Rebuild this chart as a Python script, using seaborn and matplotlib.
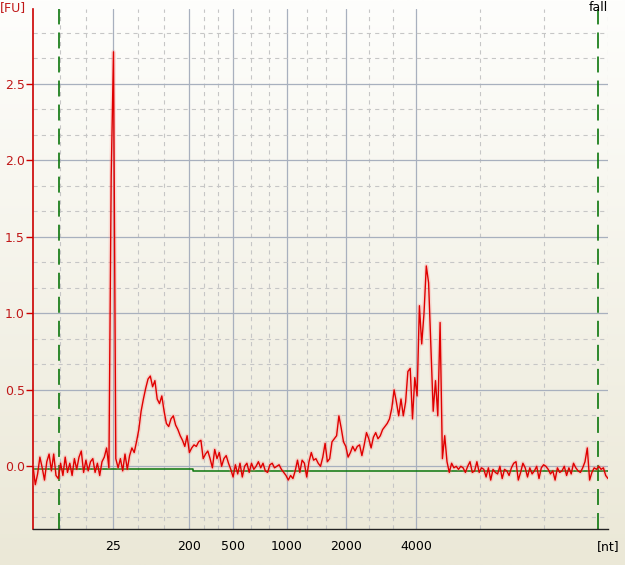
import matplotlib
matplotlib.use('Agg')
import matplotlib.pyplot as plt
import seaborn as sns
import numpy as np
from matplotlib.colors import LinearSegmentedColormap
from matplotlib.transforms import blended_transform_factory

sns.set_theme(style="white")
plt.rcParams['font.family'] = ['DejaVu Sans']
plt.rcParams['lines.scale_dashes'] = False

# electropherogram, sampled every 0.2 s from 18.0 s
t_start = 18.0
t_step = 0.2
fu = [
    0.00, -0.12, -0.05, 0.06, -0.01, -0.09, 0.03, 0.08, -0.03, 0.08,
    -0.06, -0.08, 0.02, -0.06, 0.06, -0.04, 0.02, -0.06, 0.05, -0.02,
    0.06, 0.10, -0.04, 0.04, -0.03, 0.03, 0.05, -0.04, 0.02, -0.06,
    0.03, 0.06, 0.12, -0.01, 1.90, 2.71, 0.05, -0.01, 0.05, -0.03,
    0.08, -0.02, 0.07, 0.12, 0.09, 0.16, 0.24, 0.36, 0.44, 0.51,
    0.57, 0.59, 0.52, 0.56, 0.44, 0.41, 0.46, 0.36, 0.28, 0.26,
    0.31, 0.33, 0.27, 0.24, 0.20, 0.17, 0.13, 0.20, 0.09, 0.12,
    0.14, 0.13, 0.16, 0.17, 0.05, 0.08, 0.10, 0.05, -0.01, 0.11,
    0.05, 0.09, 0.00, 0.05, 0.07, 0.02, -0.02, -0.07, 0.01, -0.05,
    0.02, -0.07, 0.00, 0.02, -0.04, 0.02, -0.02, 0.00, 0.03, -0.01,
    0.02, -0.03, -0.04, 0.01, 0.02, -0.01, 0.00, 0.01, -0.02, -0.04,
    -0.06, -0.09, -0.06, -0.08, -0.03, 0.04, -0.04, 0.04, 0.02, -0.07,
    0.03, 0.09, 0.04, 0.05, 0.02, 0.00, 0.06, 0.15, 0.03, 0.05,
    0.16, 0.18, 0.20, 0.33, 0.25, 0.16, 0.13, 0.06, 0.09, 0.13,
    0.10, 0.13, 0.14, 0.07, 0.14, 0.22, 0.18, 0.12, 0.19, 0.22,
    0.18, 0.20, 0.24, 0.26, 0.28, 0.31, 0.38, 0.50, 0.42, 0.33,
    0.44, 0.33, 0.42, 0.62, 0.64, 0.31, 0.58, 0.46, 1.05, 0.80,
    1.00, 1.31, 1.20, 0.77, 0.36, 0.56, 0.33, 0.94, 0.05, 0.20,
    0.03, -0.04, 0.02, -0.01, 0.00, -0.02, 0.00, -0.01, -0.04, 0.00,
    0.03, -0.04, -0.03, 0.03, -0.04, -0.01, -0.02, -0.07, -0.01, -0.09,
    -0.02, -0.04, -0.05, 0.00, -0.08, -0.02, -0.03, -0.06, -0.01, 0.02,
    0.03, -0.09, -0.04, 0.02, -0.01, -0.07, -0.01, -0.05, -0.03, 0.00,
    -0.08, -0.01, 0.01, 0.00, -0.02, -0.05, -0.03, -0.09, -0.01, -0.04,
    -0.03, 0.00, -0.06, -0.01, -0.05, 0.02, -0.01, -0.03, -0.04, -0.01,
    0.03, 0.12, -0.09, -0.04, -0.01, -0.02, 0.00, -0.02, -0.01, -0.06,
    -0.08,
]
time = t_start + t_step * np.arange(len(fu))

# ladder (solid grid) and its unlabeled end points
ladder_sizes = ["25", "200", "500", "1000", "2000", "4000"]
ladder_times = [24.96, 31.57, 35.39, 40.09, 45.22, 51.30]
x_min, x_max = 18.0, 68.0

# baseline and lower/upper markers
baseline_times = [18.0, 31.9, 31.9, 68.0]
baseline_fu = [-0.02, -0.02, -0.03, -0.03]
marker_times = [20.26, 67.13]
marker_label = "fall"

y_major = [0.0, 0.5, 1.0, 1.5, 2.0, 2.5]

RED = '#e00000'
GREEN = '#0c760c'
MAJOR = '#a8b0be'
MINOR = '#c6c6c6'

fig = plt.figure(figsize=(6.25, 5.65), dpi=100)

# background gradient (white at top -> beige at bottom)
bg = fig.add_axes([0, 0, 1, 1], zorder=-1)
cmap = LinearSegmentedColormap.from_list('bg', ['#ebe8d7', '#fefefc'])
bg.imshow(np.linspace(0, 1, 256).reshape(-1, 1)[::-1], aspect='auto',
          cmap=cmap, extent=[0, 1, 0, 1])
bg.axis('off')

ax = fig.add_axes([33 / 625, 1 - 529 / 565, 575 / 625, 520 / 565])
ax.set_facecolor('none')
ax.set_xlim(x_min, x_max)
ax.set_ylim(-0.41, 2.99)

# grid: solid at ladder / integer halves, dashed at thirds in between
edges = [x_min] + ladder_times + [x_max]
for a, b in zip(edges[:-1], edges[1:]):
    for k in (1, 2):
        ax.axvline(a + (b - a) * k / 3, color=MINOR, lw=0.8, ls=(0, (3, 3)), zorder=1)
ax.axvline(x_max, color=MINOR, lw=0.8, ls=(0, (3, 3)), zorder=1)
for t in ladder_times:
    ax.axvline(t, color=MAJOR, lw=0.9, zorder=1)
for y in y_major:
    ax.axhline(y, color=MAJOR, lw=0.9, zorder=1)
for y in np.arange(-0.5, 3.0, 0.5):
    for k in (1, 2):
        yy = y + 0.5 * k / 3
        if -0.41 < yy < 2.99:
            ax.axhline(yy, color=MINOR, lw=0.8, ls=(0, (3, 3)), zorder=1)

# markers
for t in marker_times:
    ax.axvline(t, color=GREEN, lw=1.2, ls=(0, (11.5, 5.8)), zorder=2)

# baseline
sns.lineplot(x=baseline_times, y=baseline_fu, ax=ax, color=GREEN, lw=1.1,
             estimator=None, sort=False, zorder=3)

# trace with soft halo
sns.lineplot(x=time, y=fu, ax=ax, color='#ff8080', lw=3.0, alpha=0.25,
             estimator=None, zorder=4)
sns.lineplot(x=time, y=fu, ax=ax, color=RED, lw=1.0, estimator=None, zorder=5)

ax.set_xlabel('')
ax.set_ylabel('')
ax.set_xticks(ladder_times + [x_max])
ax.set_xticklabels(ladder_sizes + ['[nt]'])
ax.set_yticks(y_major)
ax.set_yticklabels([f'{v:.1f}' for v in y_major])
ax.tick_params(axis='x', length=0, pad=8, labelsize=9, labelcolor='black')
ax.tick_params(axis='y', length=5, width=1, pad=1, labelsize=9,
               color='#cc0000', labelcolor='#c01818', left=True)

for s in ('top', 'right'):
    ax.spines[s].set_visible(False)
ax.spines['left'].set_color('#cc0000')
ax.spines['left'].set_linewidth(1.2)
ax.spines['bottom'].set_color('#222222')
ax.spines['bottom'].set_linewidth(1.0)

trans = blended_transform_factory(ax.transData, ax.transAxes)
ax.text(marker_times[1], 1.002, marker_label, transform=trans, ha='center',
        va='center', fontsize=9, color='black', clip_on=False)
fig.text(0.0, 1 - 8 / 565, '[FU]', ha='left', va='center', fontsize=9, color='#c01818')

fig.savefig('out.png', dpi=100)
